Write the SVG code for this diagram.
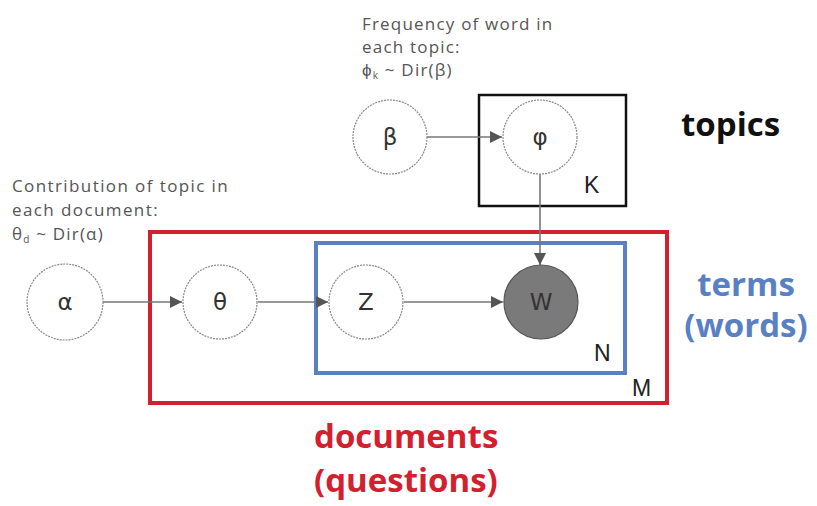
<svg xmlns="http://www.w3.org/2000/svg" width="817" height="506" viewBox="0 0 817 506">
<defs>
<marker id="arr" viewBox="0 0 10 10" refX="10" refY="5" markerWidth="12" markerHeight="12" markerUnits="userSpaceOnUse" orient="auto">
<path d="M0,0 L10,5 L0,10 z" fill="#555"/>
</marker>
<style>
.node{fill:#fff;stroke:#888;stroke-width:1.2;stroke-dasharray:2 1}
.obs{fill:#7a7a7a;stroke:#555;stroke-width:1.2}
.sym{font-family:"DejaVu Sans","Liberation Sans",sans-serif;font-size:23px;fill:#333;text-anchor:middle}
.edge{stroke:#777;stroke-width:1.6;fill:none;marker-end:url(#arr)}
.note{font-family:"Open Sans","Liberation Sans",sans-serif;font-size:17px;fill:#555;letter-spacing:1.2px}
.big{font-family:"Open Sans","Liberation Sans",sans-serif;font-size:33px;font-weight:bold}
.plab{font-family:"Liberation Sans",sans-serif;font-size:23px;fill:#222}
</style>
</defs>
<rect width="817" height="506" fill="#fff"/>
<g id="plates">
<rect id="plate-K" x="479" y="95" width="147" height="111" fill="none" stroke="#111" stroke-width="2.5"/>
<text class="plab" x="584" y="193">K</text>
<rect id="plate-M" x="150" y="232" width="517" height="171" fill="none" stroke="#d3202f" stroke-width="4"/>
<text class="plab" x="632" y="396">M</text>
<rect id="plate-N" x="316" y="243" width="309" height="130" fill="none" stroke="#5a80c4" stroke-width="4"/>
<text class="plab" x="594" y="361">N</text>
</g>
<g id="connectors">
<line class="edge" x1="427" y1="137" x2="502" y2="137"/>
<line class="edge" x1="540" y1="174" x2="540" y2="265"/>
<line class="edge" x1="103" y1="302" x2="182" y2="302"/>
<line class="edge" x1="258" y1="302" x2="328" y2="302"/>
<line class="edge" x1="404" y1="302" x2="503" y2="302"/>
</g>
<g id="node-beta"><circle class="node" cx="390" cy="137" r="37"/><text class="sym" x="390" y="145">β</text></g>
<g id="node-phi"><circle class="node" cx="540" cy="137" r="37"/><text class="sym" x="540" y="145">φ</text></g>
<g id="node-alpha"><circle class="node" cx="65" cy="302" r="38"/><text class="sym" x="65" y="310">α</text></g>
<g id="node-theta"><circle class="node" cx="220" cy="302" r="37"/><text class="sym" x="220" y="310">θ</text></g>
<g id="node-z"><circle class="node" cx="366" cy="302" r="37"/><text class="sym" x="366" y="310">Z</text></g>
<g id="node-w"><circle class="obs" cx="541" cy="302" r="37"/><text class="sym" x="541" y="310">W</text></g>
<g id="note-topic">
<text class="note" x="362" y="30">Frequency of word in</text>
<text class="note" x="362" y="53">each topic:</text>
<text class="note" x="362" y="76">ϕ<tspan font-size="10" dy="3">k</tspan><tspan dy="-3"> ~ Dir(β)</tspan></text>
</g>
<g id="note-doc">
<text class="note" x="12" y="192" style="letter-spacing:1.4px">Contribution of topic in</text>
<text class="note" x="12" y="216" style="letter-spacing:1.4px">each document:</text>
<text class="note" x="12" y="240">θ<tspan font-size="10" dy="3">d</tspan><tspan dy="-3"> ~ Dir(α)</tspan></text>
</g>
<g id="labels">
<text class="big" x="681" y="136" fill="#111">topics</text>
<text class="big" x="746" y="296" fill="#5a80c4" text-anchor="middle">terms</text>
<text class="big" x="746" y="337" fill="#5a80c4" text-anchor="middle">(words)</text>
<text class="big" x="314" y="448" fill="#d3202f">documents</text>
<text class="big" x="314" y="492" fill="#d3202f">(questions)</text>
</g>
</svg>
